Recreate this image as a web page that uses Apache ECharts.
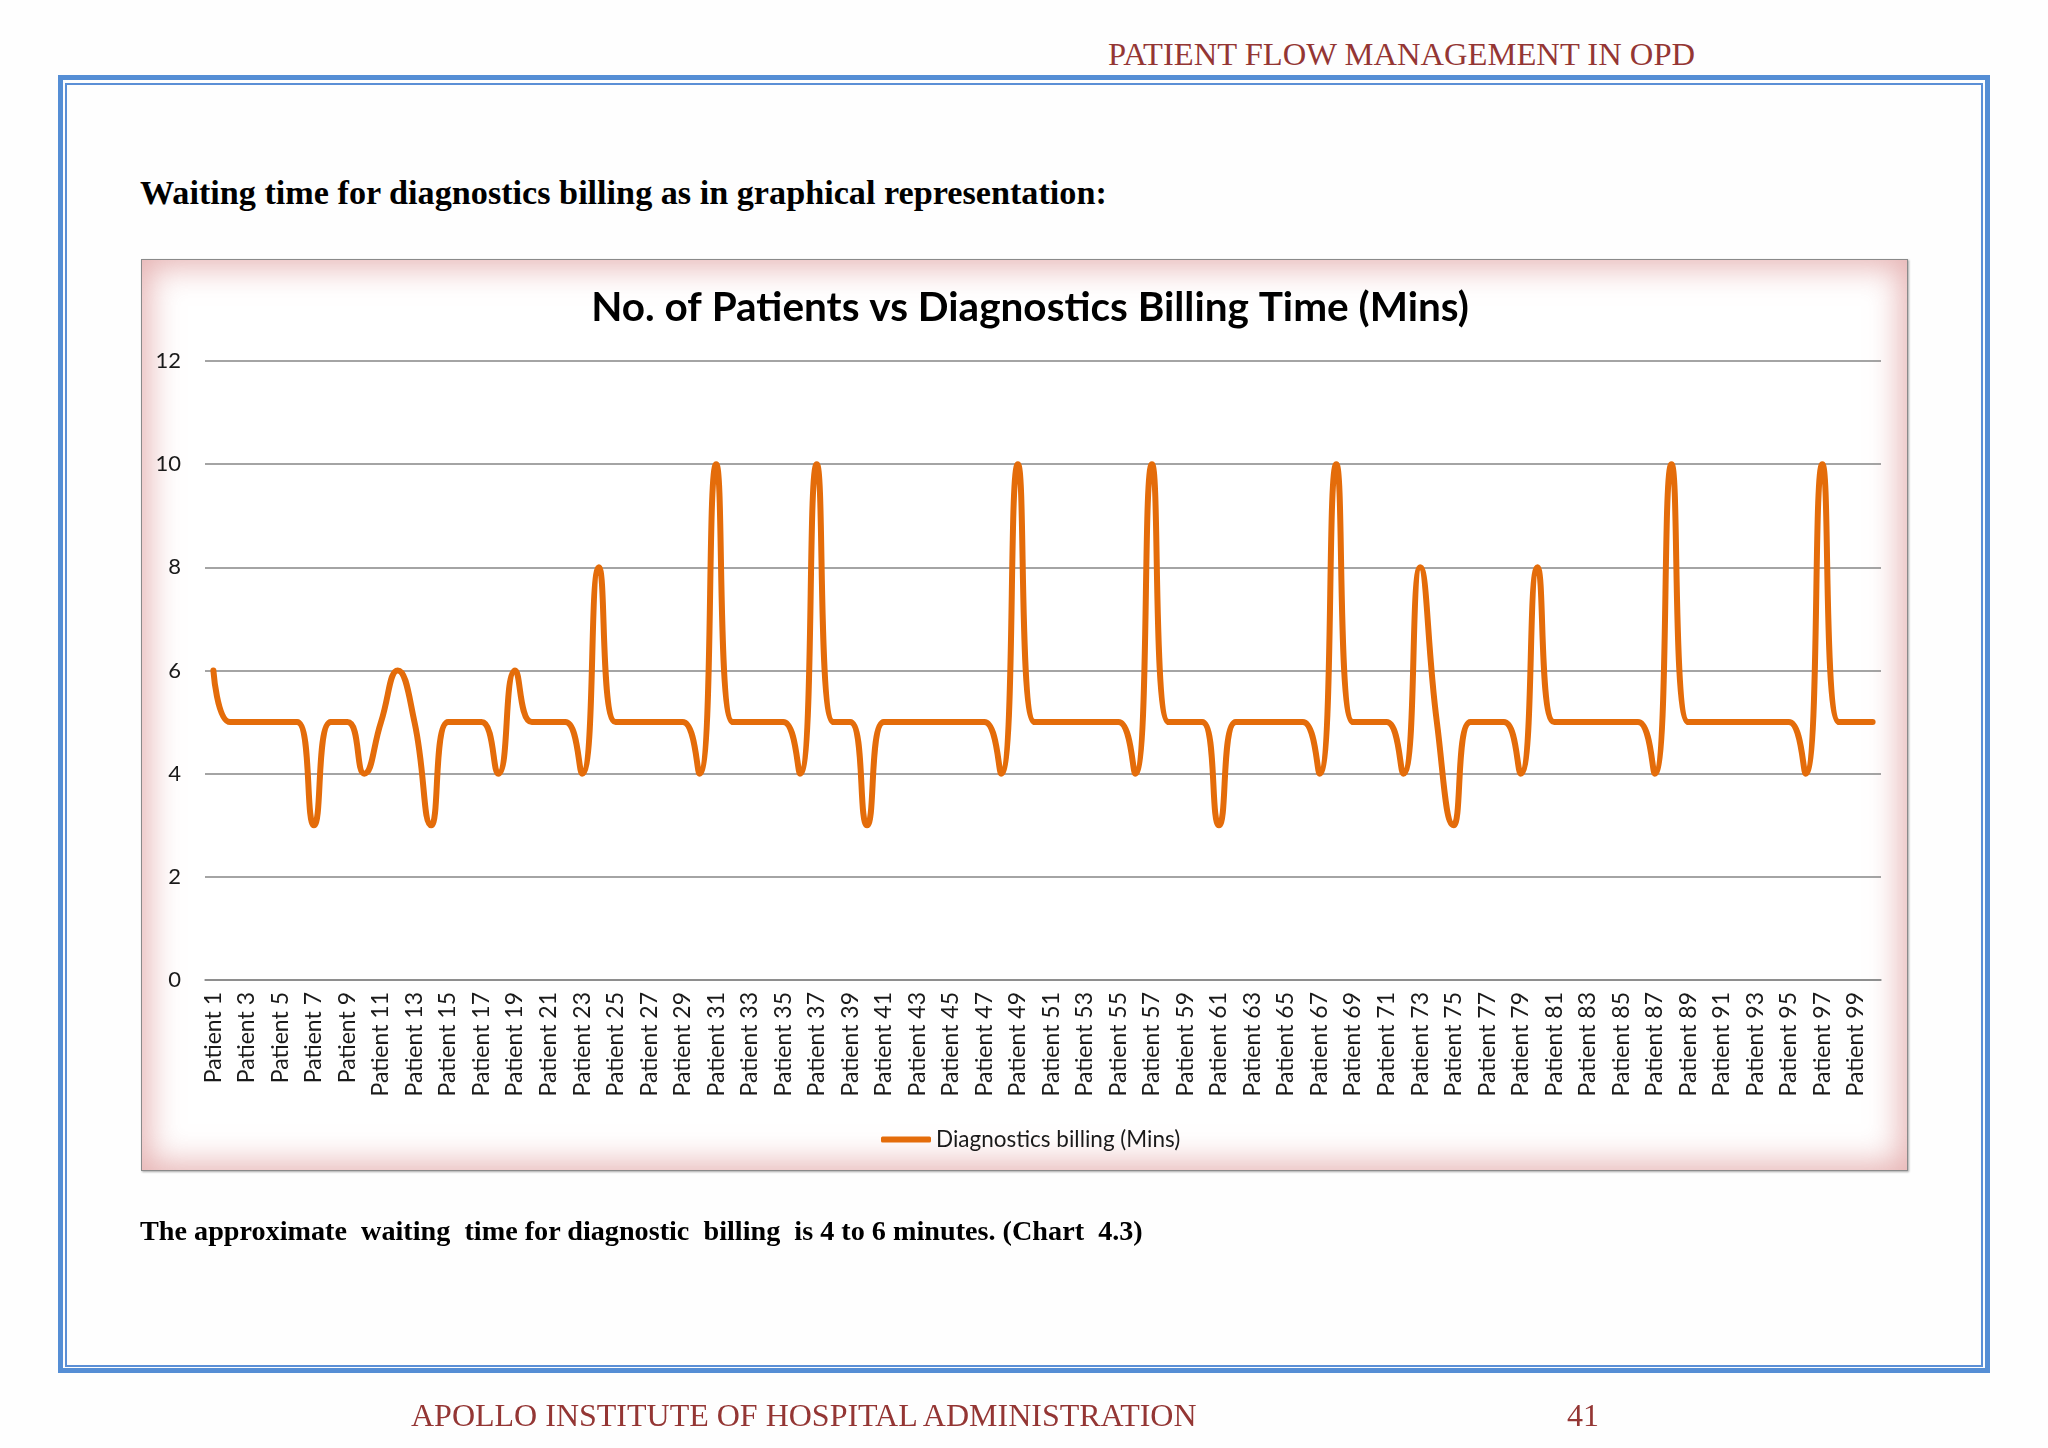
<!DOCTYPE html>
<html>
<head>
<meta charset="utf-8">
<script src="https://cdn.jsdelivr.net/npm/echarts@6/dist/echarts.min.js"></script>
<style>
  html, body { margin: 0; padding: 0; background: #ffffff; }
  #page { position: relative; width: 2048px; height: 1448px; overflow: hidden; background: #fefefe; }
  .abs { position: absolute; white-space: pre; }
  #outerBorder { left: 58px; top: 75px; width: 1922px; height: 1288px; border: 5.5px solid #558ED5; box-sizing: content-box; }
  #innerBorder { left: 65px; top: 82.5px; width: 1914px; height: 1280px; border: 2px solid #5B8FD6; }
  #frame { left: 141px; top: 259px; width: 1765px; height: 910px; border: 1.5px solid #8a8a8a;
           background: #ffffff;
           box-shadow: inset 0 0 32px 7px rgba(214, 128, 128, 0.6), 1px 1px 2px rgba(0,0,0,0.35); }
  .hdr { font-family: "Liberation Serif", serif; color: #943634; font-size: 32px; line-height: 32px; }
  .body { font-family: "Liberation Serif", serif; font-weight: bold; color: #000; }
  #chart { position: absolute; left: 0; top: 0; width: 2048px; height: 1448px; }
</style>
</head>
<body>
<div id="page">
  <div class="abs hdr" style="left:1108px; top:38px; font-size:32.6px;">PATIENT FLOW MANAGEMENT IN OPD</div>
  <div class="abs" id="outerBorder"></div>
  <div class="abs" id="innerBorder"></div>
  <div class="abs body" style="left:140px; top:176px; font-size:34.2px; line-height:34px;">Waiting time for diagnostics billing as in graphical representation:</div>
  <div class="abs" id="frame"></div>
  <div id="chart"></div>
  <div class="abs body" style="left:140px; top:1217px; font-size:28.2px; line-height:28px;">The approximate  waiting  time for diagnostic  billing  is 4 to 6 minutes. (Chart  4.3)</div>
  <div class="abs hdr" style="left:411px; top:1399px;">APOLLO INSTITUTE OF HOSPITAL ADMINISTRATION</div>
  <div class="abs hdr" style="left:1567px; top:1399px;">41</div>
</div>
<script>
const chartTitle = 'No. of Patients vs Diagnostics Billing Time (Mins)';
const seriesName = 'Diagnostics billing (Mins)';
const categories = [
  'Patient 1','Patient 2','Patient 3','Patient 4','Patient 5','Patient 6','Patient 7','Patient 8','Patient 9','Patient 10',
  'Patient 11','Patient 12','Patient 13','Patient 14','Patient 15','Patient 16','Patient 17','Patient 18','Patient 19','Patient 20',
  'Patient 21','Patient 22','Patient 23','Patient 24','Patient 25','Patient 26','Patient 27','Patient 28','Patient 29','Patient 30',
  'Patient 31','Patient 32','Patient 33','Patient 34','Patient 35','Patient 36','Patient 37','Patient 38','Patient 39','Patient 40',
  'Patient 41','Patient 42','Patient 43','Patient 44','Patient 45','Patient 46','Patient 47','Patient 48','Patient 49','Patient 50',
  'Patient 51','Patient 52','Patient 53','Patient 54','Patient 55','Patient 56','Patient 57','Patient 58','Patient 59','Patient 60',
  'Patient 61','Patient 62','Patient 63','Patient 64','Patient 65','Patient 66','Patient 67','Patient 68','Patient 69','Patient 70',
  'Patient 71','Patient 72','Patient 73','Patient 74','Patient 75','Patient 76','Patient 77','Patient 78','Patient 79','Patient 80',
  'Patient 81','Patient 82','Patient 83','Patient 84','Patient 85','Patient 86','Patient 87','Patient 88','Patient 89','Patient 90',
  'Patient 91','Patient 92','Patient 93','Patient 94','Patient 95','Patient 96','Patient 97','Patient 98','Patient 99','Patient 100'
];
const billingMins = [
  6,5,5,5,5,5,3,5,5,4,
  5,6,5,3,5,5,5,4,6,5,
  5,5,4,8,5,5,5,5,5,4,
  10,5,5,5,5,4,10,5,5,3,
  5,5,5,5,5,5,5,4,10,5,
  5,5,5,5,5,4,10,5,5,5,
  3,5,5,5,5,5,4,10,5,5,
  5,4,8,5,3,5,5,5,4,8,
  5,5,5,5,5,5,4,10,5,5,
  5,5,5,5,5,4,10,5,5,5
];
const yMin = 0, yMax = 12, yStep = 2;

const chart = echarts.init(document.getElementById('chart'), null, { renderer: 'canvas' });
chart.setOption({
  backgroundColor: 'transparent',
  animation: false,
  title: {
    text: chartTitle,
    left: 1025,
    top: 282,
    textAlign: 'center',
    textStyle: { fontFamily: 'Lato', fontWeight: 'bold', fontSize: 40.5, color: '#000' }
  },
  legend: {
    data: [seriesName],
    left: 876,
    top: 1123,
    icon: 'roundRect',
    itemWidth: 50,
    itemHeight: 6,
    textStyle: { fontFamily: 'Lato', fontSize: 22.5, color: '#1a1a1a' }
  },
  grid: { left: 205, right: 167, top: 361, bottom: 468, containLabel: false },
  xAxis: {
    type: 'category',
    data: categories,
    boundaryGap: true,
    axisLine: { lineStyle: { color: '#868686', width: 1.5 } },
    axisTick: { show: false },
    axisLabel: { interval: 1, rotate: 90, margin: 12, fontFamily: 'Lato', fontSize: 23, color: '#1a1a1a' }
  },
  yAxis: {
    type: 'value',
    min: yMin, max: yMax, interval: yStep,
    axisLine: { show: false },
    axisTick: { show: false },
    axisLabel: { margin: 24, fontFamily: 'Lato', fontSize: 22, color: '#1a1a1a' },
    splitLine: { lineStyle: { color: '#868686', width: 1.5 } }
  },
  series: [{
    name: seriesName,
    type: 'line',
    data: billingMins,
    smooth: 0.5,
    symbol: 'none',
    lineStyle: { color: '#E46C0A', width: 6, cap: 'round', join: 'round' },
    itemStyle: { color: '#E46C0A' }
  }]
});
</script>
</body>
</html>
